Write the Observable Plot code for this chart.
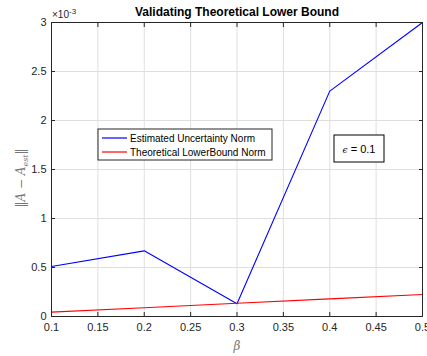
<!DOCTYPE html>
<html><head><meta charset="utf-8">
<script src="https://cdn.jsdelivr.net/npm/d3@7"></script>
<script src="https://cdn.jsdelivr.net/npm/@observablehq/plot@0.6"></script>
<style>
body{margin:0;background:#fff;}
svg{font-family:"Liberation Sans",Arial,sans-serif;}
</style>
</head><body>
<div id="chart"></div>
<script>
const beta = [0.1, 0.2, 0.3, 0.4, 0.5];
const estimated = [0.00051, 0.00067, 0.00013, 0.0023, 0.0030];
const lowerBound = [0.000045, 0.00009, 0.000135, 0.00018, 0.000225];
const xTicks = [0.1, 0.15, 0.2, 0.25, 0.3, 0.35, 0.4, 0.45, 0.5];
const yTicks = [0, 0.0005, 0.001, 0.0015, 0.002, 0.0025, 0.003];
const seriesNames = ["Estimated Uncertainty Norm", "Theoretical LowerBound Norm"];
const seriesColors = ["#0000ff", "#ff0000"];

const rows = [];
beta.forEach((b, i) => {
  rows.push({beta: b, value: estimated[i], series: seriesNames[0]});
  rows.push({beta: b, value: lowerBound[i], series: seriesNames[1]});
});

const fmtX = d => d3.format("")(+d.toFixed(2));
const fmtY = d => d3.format("")(+(d * 1000).toFixed(2));

const plot = Plot.plot({
  width: 427, height: 356,
  marginLeft: 51, marginRight: 5, marginTop: 22, marginBottom: 40,
  style: {fontSize: "11px", color: "#262626", fontFamily: "Liberation Sans, Arial, sans-serif"},
  x: {domain: [0.1, 0.5]},
  y: {domain: [0, 0.003]},
  color: {domain: seriesNames, range: seriesColors},
  marks: [
    Plot.gridX(xTicks, {stroke: "#dfdfdf", strokeOpacity: 1}),
    Plot.gridY(yTicks, {stroke: "#dfdfdf", strokeOpacity: 1}),
    Plot.line(rows, {x: "beta", y: "value", z: "series", stroke: "series", strokeWidth: 1.1}),
    Plot.axisX(xTicks, {anchor: "bottom", tickSize: -4, tickPadding: 11, tickFormat: fmtX, label: null, fontSize: 11, stroke: "#262626"}),
    Plot.axisX(xTicks, {anchor: "top", tickSize: -4, tickFormat: () => "", label: null}),
    Plot.axisY(yTicks, {anchor: "left", tickSize: -4, tickPadding: 9, tickFormat: fmtY, label: null, fontSize: 11}),
    Plot.axisY(yTicks, {anchor: "right", tickSize: -4, tickFormat: () => "", label: null}),
    Plot.frame({stroke: "#262626", strokeWidth: 1})
  ]
});
document.getElementById("chart").appendChild(plot);

const svg = d3.select(plot);
// title
svg.append("text").attr("x", 237).attr("y", 16).attr("text-anchor", "middle")
  .attr("font-weight", "bold").attr("font-size", 12).attr("fill", "#000")
  .text("Validating Theoretical Lower Bound");
// exponent
const ex = svg.append("text").attr("x", 52).attr("y", 18).attr("text-anchor", "start").attr("font-size", 10).attr("fill", "#262626");
ex.append("tspan").text("×10");
ex.append("tspan").attr("dy", -4).attr("font-size", 8).text("-3");
// x label
svg.append("text").attr("x", 237).attr("y", 350).attr("text-anchor", "middle")
  .attr("font-family", "DejaVu Serif, serif").attr("font-style", "italic").attr("font-size", 12).attr("fill", "#777")
  .text("β");
// y label
const yl = svg.append("text").attr("transform", "translate(25,178) rotate(-90)").attr("text-anchor", "middle")
  .attr("font-family", "DejaVu Serif, serif").attr("font-size", 12).attr("fill", "#777");
yl.append("tspan").text("‖");
yl.append("tspan").attr("font-style", "italic").text("A");
yl.append("tspan").text(" − ");
yl.append("tspan").attr("font-style", "italic").text("A");
yl.append("tspan").attr("dy", 3).attr("font-size", 8).attr("font-style", "italic").text("est");
yl.append("tspan").attr("dy", -3).text("‖");

// legend
const lg = svg.append("g").attr("transform", "translate(98,129)");
lg.append("rect").attr("width", 174).attr("height", 31).attr("fill", "#fff").attr("stroke", "#262626").attr("stroke-width", 1);
seriesNames.forEach((n, i) => {
  const y = 9 + i * 14;
  lg.append("line").attr("x1", 4).attr("x2", 29).attr("y1", y).attr("y2", y).attr("stroke", seriesColors[i]).attr("stroke-width", 1.2);
  lg.append("text").attr("x", 32).attr("y", y + 3.5).attr("text-anchor", "start").attr("font-size", 10).attr("fill", "#000").text(n);
});

// epsilon annotation
const an = svg.append("g").attr("transform", "translate(334,135)");
an.append("rect").attr("width", 50).attr("height", 27).attr("fill", "#fff").attr("stroke", "#000").attr("stroke-width", 1);
const at = an.append("text").attr("x", 25).attr("y", 17.5).attr("text-anchor", "middle").attr("font-size", 11).attr("fill", "#000");
at.append("tspan").attr("font-family", "DejaVu Serif, serif").attr("font-style", "italic").attr("font-size", 9).text("ϵ");
at.append("tspan").text(" = 0.1");
</script>
</body></html>
